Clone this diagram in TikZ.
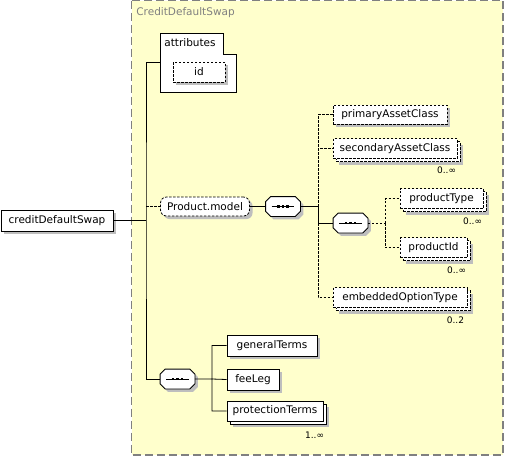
\documentclass[tikz,border=0pt]{standalone}
\usepackage{fontspec}
\setmainfont{DejaVu Sans}
\usetikzlibrary{positioning, shadows}
\definecolor{cdsyellow}{HTML}{FFFFCC}
\definecolor{cdsgray}{HTML}{808080}
\definecolor{shadowgray}{HTML}{BEBEBE}

\begin{document}
\begin{tikzpicture}[x=1pt, y=-1pt, font=\fontsize{10.5}{12}\selectfont, line width=0.8pt,
  shadowed/.style={drop shadow={shadow xshift=#1, shadow yshift=-#1, fill=shadowgray, opacity=1}},
  box/.style={draw, fill=white, inner sep=0pt, minimum height=20pt},
  elem/.style={shadowed=3pt, box},
  many/.style={shadowed=6pt, copy shadow={shadow xshift=3pt, shadow yshift=-3pt}, box},
  optional/.style={dash pattern=on 2.5pt off 1.5pt},
  seqbox/.style={inner sep=0pt, minimum width=34pt, minimum height=19pt},
  oct/.style={insert path={([xshift=5pt]#1.north west) -- ([xshift=-5pt]#1.north east)
    -- ([yshift=-5pt]#1.north east) -- ([yshift=5pt]#1.south east)
    -- ([xshift=-5pt]#1.south east) -- ([xshift=5pt]#1.south west)
    -- ([yshift=5pt]#1.south west) -- ([yshift=-5pt]#1.north west) -- cycle}},
  mult/.style={font=\fontsize{9}{10}\selectfont, inner sep=0pt, anchor=north east}]
  \useasboundingbox (0,0) rectangle (505,456);

  % complex type frame
  \draw[cdsgray, line width=1.5pt, dash pattern=on 8pt off 4pt, fill=cdsyellow] (131.5,0.5) rectangle (503,455);
  \node[cdsgray, anchor=west, inner sep=0pt] (title) at (136,13) {CreditDefaultSwap};

  % root element
  \node[elem, minimum width=112pt, minimum height=21pt] (cds) at (57,220.5) {creditDefaultSwap};
  \coordinate (trunk) at (146,220.5);

  % attributes
  \draw[fill=white] (160,33) -- (223,33) -- (223,54) -- (236,54) -- (236,92) -- (160,92) -- cycle;
  \node[anchor=west, inner sep=0pt] (attr) at (164,43) {attributes};
  \coordinate (attrin) at (160,62);
  \node[elem, optional, minimum width=52pt] (id) at (199,72) {id};

  % Product.model group
  \node[elem, optional, rounded corners=6pt, minimum width=89pt, minimum height=19pt] (pmodel) at (205,206.5) {Product.model};
  \node[seqbox] (seq1) at (283,206.5) {};
  \coordinate (br1) at (318,206.5);
  \node[elem, optional, minimum width=114pt, minimum height=19pt] (pac) at (390,114.5) {primaryAssetClass};
  \node[many, optional, minimum width=124pt] (sac) at (395,148.5) {secondaryAssetClass};
  \node[mult] (sacm) at ([xshift=-1pt, yshift=-8pt]sac.south east) {0..∞};
  \node[seqbox] (seq2) at (350.5,223) {};
  \coordinate (br2) at (385,223);
  \node[many, optional, minimum width=83pt] (ptype) at (441.5,198.5) {productType};
  \node[mult] (ptypem) at ([xshift=-1pt, yshift=-9pt]ptype.south east) {0..∞};
  \node[many, optional, minimum width=67pt] (pid) at (433.5,247.5) {productId};
  \node[mult] (pidm) at ([xshift=-1pt, yshift=-9pt]pid.south east) {0..∞};
  \node[many, optional, minimum width=134pt] (eot) at (400,297.5) {embeddedOptionType};
  \node[mult] (eotm) at ([xshift=-3pt, yshift=-9pt]eot.south east) {0..2};

  % swap legs
  \node[seqbox] (seq3) at (177.5,379) {};
  \coordinate (br3) at (212,379);
  \node[elem, minimum width=90pt, minimum height=21pt] (gt) at (272,345.5) {generalTerms};
  \node[elem, minimum width=52pt, minimum height=21pt] (fee) at (253,379.5) {feeLeg};
  \node[many, minimum width=96pt] (pt) at (275,411) {protectionTerms};
  \node[mult] (ptm) at ([xshift=1pt, yshift=-10pt]pt.south east) {1..∞};

  % sequence compositors
  \foreach \s in {seq1,seq2,seq3} {
    \draw[shadowed=3pt, fill=white, oct=\s];
    \draw ([xshift=6pt]\s.west) -- ([xshift=-6pt]\s.east);
    \foreach \d in {-4.5pt,0pt,4.5pt}
      \fill ([xshift=\d]\s.center) ++(-1.3pt,-1.3pt) rectangle ++(2.6pt,2.6pt);
  }

  % connectors
  \draw (cds.east) -- (trunk);
  \draw (attrin) -| (trunk) |- (seq3.west);
  \draw[optional] (trunk |- pmodel.west) -- (pmodel.west);
  \draw (pmodel.east) -- (seq1.west);
  \draw (seq1.east) -- (br1);
  \draw[optional] (br1) |- (pac.west) (br1) |- (sac.west);
  \draw (br1) |- (seq2.west);
  \draw[optional] (br1 |- seq2.west) |- (eot.west);
  \draw[optional] (seq2.east) -- (br2) (br2) |- (ptype.west) (br2) |- (pid.west);
  \draw (seq3.east) -- (br3) (br3) |- (gt.west) (br3) -- (fee.west) (br3) |- (pt.west);
\end{tikzpicture}
\end{document}
